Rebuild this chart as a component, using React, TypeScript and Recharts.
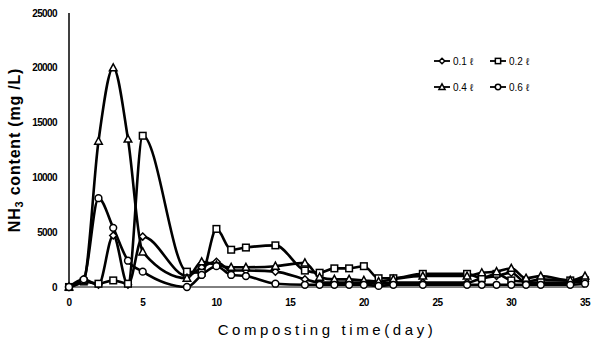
import React from 'react';
import { LineChart, Line, XAxis, YAxis } from 'recharts';

const days = [0, 1, 2, 3, 4, 5, 8, 9, 10, 11, 12, 14, 16, 17, 18, 19, 20, 21, 22, 24, 27, 28, 29, 30, 31, 32, 34, 35];
const s01 = [0, 700, 200, 4700, 200, 4600, 1000, 1800, 2300, 1500, 1500, 1400, 700, 400, 400, 400, 400, 300, 400, 400, 400, 800, 1000, 1300, 400, 400, 400, 500];
const s02 = [0, 500, 300, 600, 300, 13800, 1400, 1300, 5300, 3400, 3600, 3800, 1500, 1300, 1700, 1700, 1900, 800, 800, 1200, 1200, 800, 1200, 600, 500, 700, 600, 600];
const s04 = [0, 600, 13300, 20000, 13500, 3200, 800, 2300, 2000, 1800, 1800, 1900, 2200, 900, 700, 700, 600, 500, 700, 1000, 1000, 1300, 1400, 1700, 800, 1000, 600, 1000];
const s06 = [0, 700, 8100, 5400, 2400, 1400, 0, 1100, 1900, 1100, 1000, 300, 200, 200, 200, 200, 200, 100, 200, 200, 200, 200, 200, 200, 200, 200, 200, 300];
const xTicks = [0, 5, 10, 15, 20, 25, 30, 35];
const yTicks = [0, 5000, 10000, 15000, 20000, 25000];
const seriesNames = ['0.1 \u2113', '0.2 \u2113', '0.4 \u2113', '0.6 \u2113'];

const data = days.map((d, i) => ({ day: d, a: s01[i], b: s02[i], c: s04[i], e: s06[i] }));

const Marker = ({ cx, cy, kind, s = 1 }: any) => {
  if (cx == null || cy == null) return null;
  const p = { fill: '#fff', stroke: '#000', strokeWidth: 1.5 };
  if (kind === 'diamond') return <path d={`M${cx},${cy - 3.5 * s}L${cx + 3.5 * s},${cy}L${cx},${cy + 3.5 * s}L${cx - 3.5 * s},${cy}Z`} {...p} />;
  if (kind === 'square') return <rect x={cx - 3.3 * s} y={cy - 3.3 * s} width={6.6 * s} height={6.6 * s} {...p} />;
  if (kind === 'triangle') return <path d={`M${cx},${cy - 4 * s}L${cx + 3.8 * s},${cy + 3 * s}L${cx - 3.8 * s},${cy + 3 * s}Z`} {...p} />;
  return <circle cx={cx} cy={cy} r={3.4 * s} {...p} />;
};

const kinds = ['diamond', 'square', 'triangle', 'circle'];

const LegendBox = () => {
  const item = (i: number, x: number, y: number) => (
    <g key={i}>
      <line x1={x} x2={x + 16} y1={y} y2={y} stroke="#000" strokeWidth={1.8} />
      <Marker cx={x + 8} cy={y} kind={kinds[i]} s={0.8} />
      <text x={x + 19} y={y + 3.5} fontSize={10} fontFamily="Liberation Sans, Arial" fill="#000">{seriesNames[i]}</text>
    </g>
  );
  return (
    <svg width={170} height={50} style={{ position: 'absolute', left: 430, top: 48 }}>
      {item(0, 4, 13)}
      {item(1, 60, 13)}
      {item(2, 4, 39)}
      {item(3, 60, 39)}
    </svg>
  );
};

const XLabel = () => (
  <text x={327} y={335} textAnchor="middle" fontSize={15} fontFamily="Liberation Sans, Arial" letterSpacing={3.6} fill="#000">
    Composting time(day)
  </text>
);

const YLabel = () => (
  <text x={20} y={150} transform="rotate(-90 20 150)" textAnchor="middle" fontSize={16} fontWeight="bold" fontFamily="Liberation Sans, Arial" letterSpacing={0.8} fill="#000">
    NH<tspan fontSize={11} dy={3}>3</tspan><tspan dy={-3}> content (mg /L)</tspan>
  </text>
);

export default function App() {
  const tickStyle = { fontSize: 10, fontWeight: 'bold' as const, fontFamily: 'Liberation Sans, Arial', fill: '#000', letterSpacing: -0.6 };
  const lines = [
    { key: 'a', kind: 'diamond' },
    { key: 'b', kind: 'square' },
    { key: 'c', kind: 'triangle' },
    { key: 'e', kind: 'circle' },
  ];
  return (
    <div style={{ position: 'absolute', left: 0, top: 0, width: 592, height: 346, background: '#fff' }}>
      <LineChart width={592} height={346} data={data} margin={{ top: 13, right: 7, bottom: 0, left: 0 }}>
        <XAxis dataKey="day" type="number" domain={[0, 35]} ticks={xTicks} height={59} tickSize={0} tickMargin={12}
          tick={tickStyle} axisLine={{ stroke: '#000', strokeWidth: 1 }} label={<XLabel />} interval={0} />
        <YAxis type="number" domain={[0, 25000]} ticks={yTicks} width={69} tickSize={0} tickMargin={12}
          tick={tickStyle} axisLine={{ stroke: '#000', strokeWidth: 1.5 }} label={<YLabel />} interval={0} />
        {lines.map((l) => (
          <Line key={l.key} dataKey={l.key} type="monotone" stroke="#000" strokeWidth={2.6} isAnimationActive={false}
            dot={(p: any) => <Marker key={`${l.key}-${p.index}`} cx={p.cx} cy={p.cy} kind={l.kind} />} activeDot={false} />
        ))}
      </LineChart>
      <LegendBox />
    </div>
  );
}
